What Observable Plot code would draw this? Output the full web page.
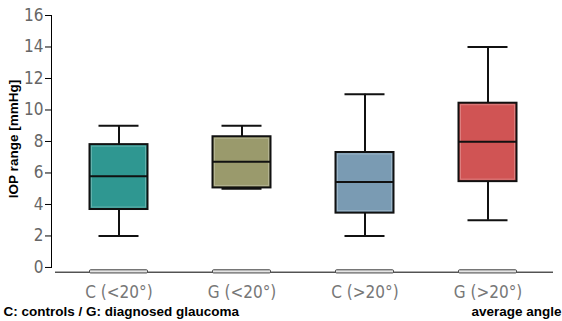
<!DOCTYPE html>
<html>
<head>
<meta charset="utf-8">
<script src="https://cdn.jsdelivr.net/npm/d3@7"></script>
<script src="https://cdn.jsdelivr.net/npm/@observablehq/plot@0.6"></script>
<style>
  html, body { margin: 0; padding: 0; background: #fff; }
  #chart { width: 562px; height: 321px; position: relative; }
</style>
</head>
<body>
<div id="chart"></div>
<script>
const categories = ["C (<20°)", "G (<20°)", "C (>20°)", "G (>20°)"];
const whiskerLow = [2, 5, 2, 3];
const q1 = [3.68, 5.05, 3.45, 5.45];
const median = [5.8, 6.72, 5.42, 7.98];
const q3 = [7.8, 8.3, 7.3, 10.43];
const whiskerHigh = [9, 9, 11, 14];
const colors = ["#2f9791", "#9a9a6c", "#7a9bb3", "#d05454"];
const yTicks = [0, 2, 4, 6, 8, 10, 12, 14, 16];
const yTitle = "IOP range [mmHg]";
const captionLeft = "C: controls / G: diagnosed glaucoma";
const captionRight = "average angle";

const data = categories.map((c, i) => ({
  cat: c, lo: whiskerLow[i], q1: q1[i], med: median[i], q3: q3[i], hi: whiskerHigh[i], color: colors[i],
  base1: -0.38, base2: -0.18
}));

const narrow = "'Liberation Sans Narrow', 'Arial Narrow', 'DejaVu Sans Condensed', sans-serif";

const chart = Plot.plot({
  width: 562,
  height: 321,
  marginLeft: 51,
  marginRight: 9,
  marginTop: 15,
  marginBottom: 49,
  style: {fontFamily: "'Liberation Sans', Arial, sans-serif", background: "#fff"},
  x: {domain: categories, padding: 0, insetLeft: 4.5, insetRight: 2, axis: null},
  y: {domain: [-0.32, 16], axis: null},
  marks: [
    // x axis line
    Plot.ruleY([-0.3], {stroke: "#000", strokeWidth: 1, insetLeft: 4}),
    // baseline bars
    Plot.rect(data, {x: "cat", y1: "base1", y2: "base2", insetLeft: 32.5, insetRight: 32.5, fill: "#e4e4e4", stroke: "#444", strokeWidth: 1, rx: 1}),
    // y axis line
    Plot.frame({anchor: "left", insetBottom: 5, stroke: "#000", strokeWidth: 1}),
    Plot.axisY({
      ticks: yTicks, tickSize: 6, tickPadding: 2, stroke: "#000",
      fill: "#666", fontSize: 17, fontFamily: narrow, tickFormat: d => String(d)
    }),
    // x tick labels
    Plot.text(data, {x: "cat", y: -0.32, text: "cat", dy: 20, fill: "#777", fontSize: 17, fontFamily: narrow}),
    // whiskers
    Plot.ruleX(data, {x: "cat", y1: "lo", y2: "q1", stroke: "#111", strokeWidth: 2}),
    Plot.ruleX(data, {x: "cat", y1: "q3", y2: "hi", stroke: "#111", strokeWidth: 2}),
    Plot.tickY(data, {x: "cat", y: "lo", insetLeft: 41.5, insetRight: 41.5, stroke: "#111", strokeWidth: 2}),
    Plot.tickY(data, {x: "cat", y: "hi", insetLeft: 41.5, insetRight: 41.5, stroke: "#111", strokeWidth: 2}),
    // boxes
    Plot.rect(data, {x: "cat", y1: "q1", y2: "q3", insetLeft: 32.5, insetRight: 32.5, fill: "color", stroke: "#111", strokeWidth: 2}),
    Plot.rect(data, {x: "cat", y1: "q1", y2: "q3", insetLeft: 34.5, insetRight: 34.5, insetTop: 2, insetBottom: 2, fill: "none", stroke: "#fff", strokeOpacity: 0.25, strokeWidth: 1}),
    Plot.tickY(data, {x: "cat", y: "med", insetLeft: 32.5, insetRight: 32.5, stroke: "#111", strokeWidth: 2}),
    // y title
    Plot.text([yTitle], {frameAnchor: "left", textAnchor: "middle", dx: -38, dy: -5, rotate: -90, fontWeight: "bold", fontSize: 13.5, fill: "#000", text: d => d}),
    // captions
    Plot.text([captionLeft], {frameAnchor: "bottom-left", textAnchor: "start", dx: -48, dy: 43, fontWeight: "bold", fontSize: 13.5, fill: "#000", text: d => d}),
    Plot.text([captionRight], {frameAnchor: "bottom-right", textAnchor: "end", dx: 8, dy: 43, fontWeight: "bold", fontSize: 13.5, fill: "#000", text: d => d})
  ]
});
document.getElementById("chart").appendChild(chart);
</script>
</body>
</html>
